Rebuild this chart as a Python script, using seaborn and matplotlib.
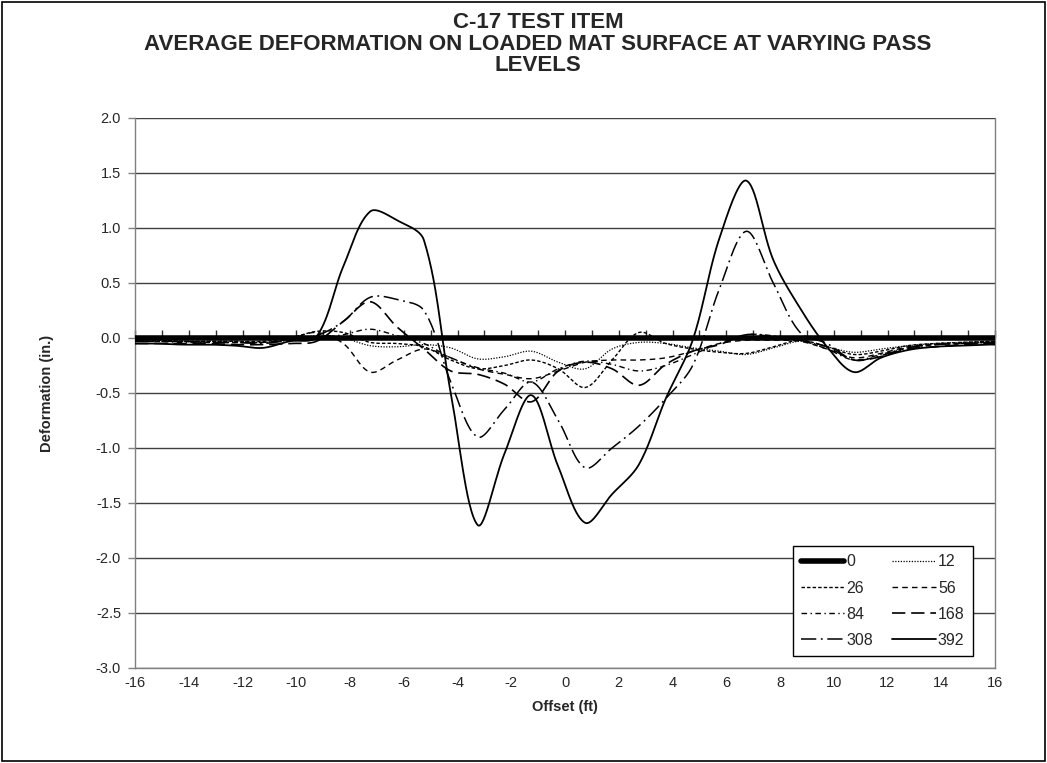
import numpy as np
import pandas as pd
import matplotlib
matplotlib.use("Agg")
import matplotlib.pyplot as plt
from matplotlib.patches import Rectangle
import seaborn as sns

# ---------------- data ----------------
offsets = [-16, -15.25, -14.25, -13.25, -12.25, -11.25, -10.25, -9.25, -8.25, -7.25,
           -6.25, -5.25, -4.25, -3.25, -2.25, -1.25, -0.25, 0.75, 1.75, 2.75,
           3.75, 4.75, 5.75, 6.75, 7.75, 8.75, 9.75, 10.75, 11.75, 12.75,
           13.75, 14.75, 15.75, 16]

pass_labels = ["0", "12", "26", "56", "84", "168", "308", "392"]

p0 = [0.0] * 34
p12 = [-0.02, -0.02, -0.03, -0.03, -0.03, -0.04, -0.02, 0.02, 0.0, -0.07,
       -0.08, -0.06, -0.09, -0.19, -0.17, -0.12, -0.22, -0.28, -0.10, -0.04,
       -0.05, -0.09, -0.12, -0.15, -0.09, -0.03, -0.08, -0.13, -0.10, -0.07,
       -0.05, -0.04, -0.03, -0.03]
p26 = [-0.02, -0.02, -0.03, -0.03, -0.03, -0.03, 0.0, 0.06, 0.05, -0.04,
       -0.05, -0.08, -0.20, -0.28, -0.25, -0.20, -0.28, -0.45, -0.20, 0.05,
       -0.05, -0.10, -0.13, -0.14, -0.08, -0.02, -0.08, -0.15, -0.12, -0.07,
       -0.05, -0.04, -0.03, -0.03]
p56 = [-0.03, -0.03, -0.03, -0.04, -0.04, -0.04, -0.01, 0.05, -0.05, -0.31,
       -0.20, -0.10, -0.18, -0.28, -0.33, -0.37, -0.30, -0.22, -0.20, -0.20,
       -0.18, -0.12, -0.05, -0.02, -0.02, -0.03, -0.10, -0.18, -0.14, -0.08,
       -0.06, -0.05, -0.04, -0.04]
p84 = [-0.03, -0.03, -0.04, -0.04, -0.04, -0.04, -0.02, 0.0, 0.03, 0.08,
       0.02, -0.05, -0.18, -0.27, -0.32, -0.40, -0.28, -0.21, -0.24, -0.30,
       -0.25, -0.15, -0.05, 0.03, 0.02, -0.02, -0.10, -0.20, -0.15, -0.09,
       -0.06, -0.05, -0.04, -0.04]
p168 = [-0.05, -0.05, -0.05, -0.05, -0.06, -0.06, -0.05, -0.03, 0.15, 0.33,
        0.10, -0.10, -0.30, -0.33, -0.42, -0.58, -0.30, -0.22, -0.28, -0.43,
        -0.24, -0.12, -0.06, 0.03, 0.01, -0.02, -0.08, -0.20, -0.17, -0.10,
        -0.08, -0.06, -0.05, -0.05]
p308 = [-0.03, -0.03, -0.03, -0.04, -0.04, -0.05, -0.02, 0.02, 0.15, 0.37,
        0.35, 0.25, -0.40, -0.90, -0.65, -0.40, -0.75, -1.18, -1.00, -0.80,
        -0.55, -0.25, 0.45, 0.97, 0.50, 0.05, -0.05, -0.20, -0.16, -0.09,
        -0.06, -0.05, -0.04, -0.04]
p392 = [-0.05, -0.05, -0.06, -0.06, -0.07, -0.09, -0.03, 0.01, 0.65, 1.15,
        1.07, 0.89, -0.50, -1.70, -1.05, -0.52, -1.17, -1.68, -1.42, -1.15,
        -0.55, -0.02, 0.91, 1.43, 0.71, 0.27, -0.08, -0.31, -0.18, -0.11,
        -0.08, -0.07, -0.06, -0.06]

series = [p0, p12, p26, p56, p84, p168, p308, p392]

x_ticks = list(range(-16, 17, 2))
y_ticks = [-3.0, -2.5, -2.0, -1.5, -1.0, -0.5, 0.0, 0.5, 1.0, 1.5, 2.0]

# ---------------- styles ----------------
styles = {
    "0":   dict(linestyle="-", lw=4.0),
    "12":  dict(linestyle=(0, (1, 1.2)), lw=0.9),
    "26":  dict(linestyle=(0, (2.5, 1.5)), lw=1.0),
    "56":  dict(linestyle=(0, (4, 3)), lw=1.0),
    "84":  dict(linestyle=(0, (4, 2.5, 1, 2.5)), lw=1.0),
    "168": dict(linestyle=(0, (8, 3.5)), lw=1.2),
    "308": dict(linestyle=(0, (10, 3, 1.2, 3)), lw=1.1),
    "392": dict(linestyle="-", lw=1.3),
}

# pixel scale of the plot area, used to weight the smoothing like Excel does
SX, SY = 26.875, 110.0


def smooth(xs, ys, n=30):
    """Excel-style smoothed line: Bezier segments with distance-weighted tangents."""
    P = np.column_stack([np.asarray(xs, float) * SX, np.asarray(ys, float) * SY])
    m = len(P)
    before = P.copy()
    after = P.copy()
    for i in range(1, m - 1):
        v = P[i + 1] - P[i - 1]
        d1 = np.linalg.norm(P[i] - P[i - 1])
        d2 = np.linalg.norm(P[i + 1] - P[i])
        s = d1 + d2 if d1 + d2 > 0 else 1.0
        before[i] = P[i] - v * (d1 / s) / 3.0
        after[i] = P[i] + v * (d2 / s) / 3.0
    after[0] = P[0] + (P[1] - P[0]) / 3.0
    before[-1] = P[-1] - (P[-1] - P[-2]) / 3.0
    t = np.linspace(0, 1, n, endpoint=False)[:, None]
    out = []
    for i in range(m - 1):
        b0, b1, b2, b3 = P[i], after[i], before[i + 1], P[i + 1]
        seg = ((1 - t) ** 3) * b0 + 3 * ((1 - t) ** 2) * t * b1 + 3 * (1 - t) * t ** 2 * b2 + t ** 3 * b3
        out.append(seg)
    out.append(P[-1:])
    out = np.vstack(out)
    return out[:, 0] / SX, out[:, 1] / SY


sns.set_theme(style="white")
plt.rcParams["font.family"] = ["Liberation Sans", "DejaVu Sans"]

fig = plt.figure(figsize=(10.47, 7.63), dpi=100)
ax = fig.add_axes([135 / 1047, 1 - 668 / 763, 860 / 1047, 550 / 763])

handles = {}
for lab, vals in zip(pass_labels, series):
    sx, sy = smooth(offsets, vals)
    df = pd.DataFrame({"Offset": sx, "Deformation": sy})
    sns.lineplot(data=df, x="Offset", y="Deformation", sort=False, estimator=None,
                 color="black", ax=ax, label=lab, zorder=3, **styles[lab])
    handles[lab] = ax.get_lines()[-1]

ax.set_xlim(-16, 16)
ax.set_ylim(-3.0, 2.0)
ax.set_xticks(x_ticks)
ax.set_xticklabels([str(v) for v in x_ticks], fontsize=10.5)
ax.set_yticks(y_ticks)
ax.set_yticklabels([f"{v:.1f}" for v in y_ticks], fontsize=10.5)
ax.yaxis.grid(True, color="#404040", lw=1.0)
ax.xaxis.grid(False)
ax.set_axisbelow(True)
for side in ["left", "right", "bottom"]:
    ax.spines[side].set_color("#808080")
    ax.spines[side].set_linewidth(1.0)
ax.spines["top"].set_visible(False)
ax.tick_params(axis="y", which="major", direction="out", length=5, width=1,
               color="#808080", left=True, pad=5)
ax.tick_params(axis="x", which="major", direction="out", length=0, pad=6)

# tick marks along the zero line (category axis crossing at 0)
sec = ax.secondary_xaxis(3.0 / 5.0)
sec.set_xticks(list(range(-16, 17)))
sec.set_xticklabels([])
sec.tick_params(direction="out", length=6, width=1, color="#303030")
sec.spines["bottom"].set_visible(False)
sec.spines["top"].set_visible(False)

ax.set_xlabel("Offset (ft)", fontsize=10.5, fontweight="bold", labelpad=7)
ax.set_ylabel("Deformation (in.)", fontsize=10.5, fontweight="bold", labelpad=30)

fig.text(538 / 1047, 1 - 44 / 763,
         "C-17 TEST ITEM\nAVERAGE DEFORMATION ON LOADED MAT SURFACE AT VARYING PASS\nLEVELS",
         ha="center", va="center", multialignment="center",
         fontsize=16, fontweight="bold", linespacing=1.02)

order = ["0", "26", "84", "308", "12", "56", "168", "392"]
leg = ax.legend([handles[k] for k in order], order, ncol=2, loc="lower right",
                bbox_to_anchor=(0.974, 0.022), borderaxespad=0.0, frameon=True,
                fancybox=False, edgecolor="black", framealpha=1.0, fontsize=11.5,
                handlelength=2.7, handletextpad=0.15, columnspacing=1.2,
                labelspacing=0.7, borderpad=0.5)
leg.get_frame().set_linewidth(1.0)
leg.set_zorder(5)

fig.patches.append(Rectangle((0.002, 0.002), 0.996, 0.996, transform=fig.transFigure,
                             fill=False, edgecolor="black", lw=1.2))

fig.savefig("out.png", dpi=100)
